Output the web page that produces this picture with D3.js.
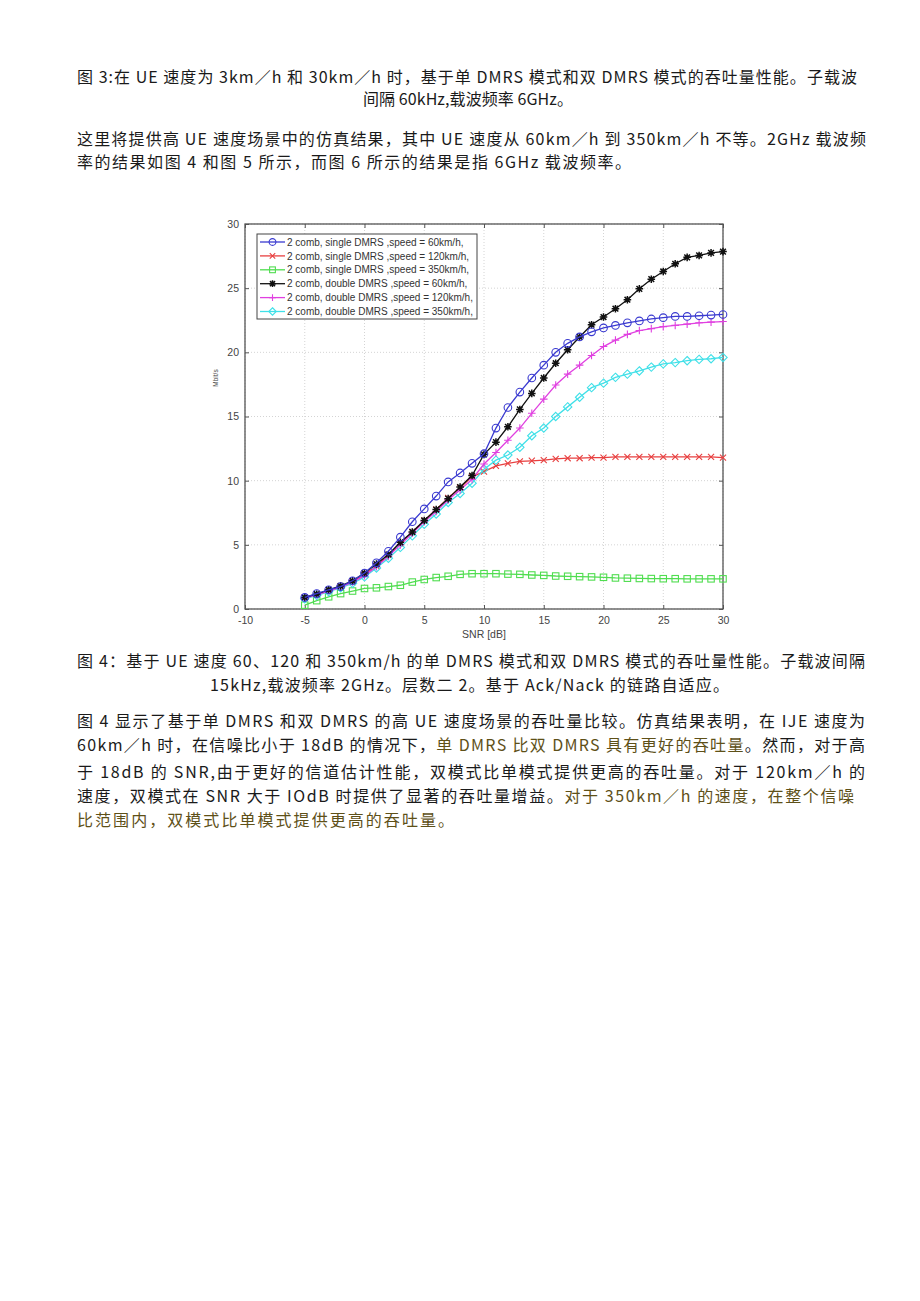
<!DOCTYPE html>
<html><head><meta charset="utf-8">
<script src="https://cdn.jsdelivr.net/npm/d3@7"></script>
<style>body{margin:0;background:#fff}svg{display:block}</style>
</head><body>
<script>
const snr = d3.range(-5, 31, 1);
const single60 = [0.9,1.2,1.5,1.75,2.2,2.8,3.6,4.5,5.6,6.8,7.8,8.8,9.9,10.6,11.35,12.1,14.1,15.7,16.9,18.0,19.0,20.0,20.7,21.2,21.6,21.9,22.1,22.3,22.45,22.6,22.7,22.8,22.8,22.85,22.9,22.95];
const single120 = [0.9,1.15,1.45,1.75,2.1,2.7,3.35,4.2,5.1,6.0,6.9,7.75,8.65,9.45,10.3,10.7,11.15,11.35,11.5,11.55,11.6,11.7,11.75,11.75,11.8,11.8,11.85,11.85,11.85,11.85,11.85,11.85,11.85,11.85,11.85,11.8];
const single350 = [0.3,0.65,0.95,1.2,1.4,1.6,1.65,1.75,1.85,2.1,2.3,2.45,2.55,2.7,2.75,2.75,2.75,2.72,2.7,2.65,2.62,2.57,2.55,2.52,2.5,2.47,2.42,2.4,2.38,2.37,2.36,2.36,2.35,2.35,2.35,2.35];
const double60 = [0.9,1.15,1.5,1.8,2.2,2.8,3.5,4.25,5.2,6.0,6.9,7.75,8.6,9.5,10.4,12.05,13.0,14.2,15.55,16.8,18.0,19.15,20.2,21.2,22.15,22.75,23.4,24.1,24.95,25.7,26.3,26.9,27.4,27.55,27.75,27.85];
const double120 = [0.85,1.1,1.4,1.7,2.1,2.6,3.3,4.1,5.0,5.9,6.8,7.6,8.5,9.3,10.1,11.3,12.2,13.15,14.1,15.25,16.35,17.45,18.3,19.0,19.75,20.45,20.95,21.4,21.7,21.85,22.0,22.1,22.2,22.3,22.35,22.4];
const double350 = [0.8,1.05,1.35,1.65,2.0,2.5,3.2,3.95,4.8,5.7,6.6,7.4,8.3,9.0,9.8,10.9,11.6,12.0,12.6,13.5,14.1,15.0,15.75,16.5,17.25,17.6,18.05,18.3,18.55,18.85,19.1,19.2,19.35,19.45,19.5,19.6];
const seriesNames = ["2 comb, single DMRS ,speed = 60km/h,","2 comb, single DMRS ,speed = 120km/h,","2 comb, single DMRS ,speed = 350km/h,","2 comb, double DMRS ,speed = 60km/h,","2 comb, double DMRS ,speed = 120km/h,","2 comb, double DMRS ,speed = 350km/h,"];
const xTicks = [-10,-5,0,5,10,15,20,25,30];
const yTicks = [0,5,10,15,20,25,30];
const xLabel = "SNR [dB]";
const yLabel = "Mbit/s";

const colors = ["#3a3ad0","#e84040","#50dd50","#111111","#e040e0","#40e0e8"];
const markers = ["circle","x","square","star","plus","diamond"];
const allSeries = [single60,single120,single350,double60,double120,double350];

const svg = d3.select("body").append("svg").attr("width",920).attr("height",1301);
svg.append("rect").attr("width",920).attr("height",1301).attr("fill","#fff");

const FONT = "'Noto Sans CJK SC', sans-serif";
const olive = "#5e5018";
const lines = [
  {segs:[["图 3:在 UE 速度为 3km／h 和 30km／h 时，基于单 DMRS 模式和双 DMRS 模式的吞吐量性能。子载波",null]], x:77, y:83, w:780},
  {segs:[["间隔 60kHz,载波频率 6GHz。",null]], x:363, y:105, w:210},
  {segs:[["这里将提供高 UE 速度场景中的仿真结果，其中 UE 速度从 60km／h 到 350km／h 不等。2GHz 载波频",null]], x:77, y:145, w:789},
  {segs:[["率的结果如图 4 和图 5 所示，而图 6 所示的结果是指 6GHz 载波频率。",null]], x:77, y:168, w:554},
  {segs:[["图 4：基于 UE 速度 60、120 和 350km/h 的单 DMRS 模式和双 DMRS 模式的吞吐量性能。子载波间隔",null]], x:77, y:667, w:788},
  {segs:[["15kHz,载波频率 2GHz。层数二 2。基于 Ack/Nack 的链路自适应。",null]], x:210, y:691, w:519},
  {segs:[["图 4 显示了基于单 DMRS 和双 DMRS 的高 UE 速度场景的吞吐量比较。仿真结果表明，在 IJE 速度为",null]], x:77, y:727, w:788},
  {segs:[["60km／h 时，在信噪比小于 18dB 的情况下，",null],["单 DMRS 比双 DMRS 具有更好的吞吐量",olive],["。然而，对于高",null]], x:77, y:751, w:788},
  {segs:[["于 18dB 的 SNR,由于更好的信道估计性能，双模式比单模式提供更高的吞吐量。对于 120km／h 的",null]], x:77, y:778, w:788},
  {segs:[["速度，双模式在 SNR 大于 IOdB 时提供了显著的吞吐量增益。",null],["对于 350km／h 的速度，在整个信噪",olive]], x:77, y:802, w:777},
  {segs:[["比范围内，双模式比单模式提供更高的吞吐量。",olive]], x:77, y:826, w:377}
];
lines.forEach(L => {
  const t = svg.append("text").attr("x",L.x).attr("y",L.y)
    .attr("font-family",FONT).attr("font-size",16).attr("fill","#1a1a1a")
    .attr("text-anchor",L.anchor||"start");
  if (L.w) t.attr("textLength",L.w).attr("lengthAdjust","spacing");
  L.segs.forEach(s => {
    const ts = t.append("tspan").text(s[0]);
    if (s[1]) ts.attr("fill",s[1]);
  });
});

// chart
const pL=245, pR=723, pT=224, pB=609;
const x = d3.scaleLinear().domain([-10,30]).range([pL,pR]);
const y = d3.scaleLinear().domain([0,30]).range([pB,pT]);
const g = svg.append("g");

g.selectAll(".gx").data(xTicks).enter().append("line")
  .attr("x1",d=>x(d)).attr("x2",d=>x(d)).attr("y1",pT).attr("y2",pB)
  .attr("stroke","#d4d4d4").attr("stroke-width",1).attr("stroke-dasharray","1,2");
g.selectAll(".gy").data(yTicks).enter().append("line")
  .attr("y1",d=>y(d)).attr("y2",d=>y(d)).attr("x1",pL).attr("x2",pR)
  .attr("stroke","#d4d4d4").attr("stroke-width",1).attr("stroke-dasharray","1,2");

const axFont = "Arial, 'Liberation Sans', sans-serif";
const fmt = d => String(d);
const xa = svg.append("g").attr("transform",`translate(0,${pB})`)
  .call(d3.axisBottom(x).tickValues(xTicks).tickSize(-4).tickPadding(8).tickFormat(fmt));
const ya = svg.append("g").attr("transform",`translate(${pL},0)`)
  .call(d3.axisLeft(y).tickValues(yTicks).tickSize(-4).tickPadding(6).tickFormat(fmt));
[xa,ya].forEach(a=>{
  a.select(".domain").remove();
  a.selectAll("line").attr("stroke","#555");
  a.selectAll("text").attr("font-family",axFont).attr("font-size",10.5).attr("fill","#444");
});
svg.append("g").attr("transform",`translate(0,${pT})`)
  .call(d3.axisTop(x).tickValues(xTicks).tickSize(-4).tickFormat(""))
  .call(a=>{a.select(".domain").remove();a.selectAll("line").attr("stroke","#555");});
svg.append("g").attr("transform",`translate(${pR},0)`)
  .call(d3.axisRight(y).tickValues(yTicks).tickSize(-4).tickFormat(""))
  .call(a=>{a.select(".domain").remove();a.selectAll("line").attr("stroke","#555");});
svg.append("rect").attr("x",pL).attr("y",pT).attr("width",pR-pL).attr("height",pB-pT)
  .attr("fill","none").attr("stroke","#555").attr("stroke-width",1.3);

svg.append("text").attr("x",x(10)).attr("y",638).attr("text-anchor","middle")
  .attr("font-family",axFont).attr("font-size",10.5).attr("fill","#444").text(xLabel);
svg.append("text").attr("transform",`translate(218,378) rotate(-90)`).attr("text-anchor","middle")
  .attr("font-family",axFont).attr("font-size",6.5).attr("fill","#444").text(yLabel);

function drawMarker(sel, type, color, cx, cy, r) {
  const gg = sel.append("g").attr("transform",`translate(${cx},${cy})`)
    .attr("fill","none").attr("stroke",color).attr("stroke-width",1.1);
  if (type==="circle") gg.append("circle").attr("r",r);
  else if (type==="square") gg.append("rect").attr("x",-r*0.85).attr("y",-r*0.85).attr("width",r*1.7).attr("height",r*1.7);
  else if (type==="diamond") gg.append("path").attr("d",`M0,${-r*1.1}L${r*1.1},0L0,${r*1.1}L${-r*1.1},0Z`);
  else if (type==="x") gg.append("path").attr("d",`M${-r*0.8},${-r*0.8}L${r*0.8},${r*0.8}M${-r*0.8},${r*0.8}L${r*0.8},${-r*0.8}`);
  else if (type==="plus") gg.append("path").attr("d",`M${-r},0L${r},0M0,${-r}L0,${r}`);
  else if (type==="star") gg.append("path").attr("d",`M${-r},0L${r},0M0,${-r}L0,${r}M${-r*0.75},${-r*0.75}L${r*0.75},${r*0.75}M${-r*0.75},${r*0.75}L${r*0.75},${-r*0.75}`).attr("stroke-width",1.5);
}

const line = d3.line().x((d,i)=>x(snr[i])).y(d=>y(d));
const order = [2,1,5,4,3,0];
order.forEach(k=>{
  const data = allSeries[k];
  svg.append("path").datum(data).attr("d",line).attr("fill","none")
    .attr("stroke",colors[k]).attr("stroke-width",1.3);
  data.forEach((v,i)=>drawMarker(svg, markers[k], colors[k], x(snr[i]), y(v), 3.8));
});

const lg = svg.append("g");
lg.append("rect").attr("x",257).attr("y",234).attr("width",220).attr("height",85)
  .attr("fill","#fff").attr("stroke","#444").attr("stroke-width",1);
seriesNames.forEach((n,i)=>{
  const yy = 242 + i*13.9;
  lg.append("line").attr("x1",260).attr("x2",285).attr("y1",yy).attr("y2",yy)
    .attr("stroke",colors[i]).attr("stroke-width",1.3);
  drawMarker(lg, markers[i], colors[i], 272.5, yy, 3.4);
  lg.append("text").attr("x",287).attr("y",yy+3.6).attr("font-family",axFont)
    .attr("font-size",10).attr("fill","#333").text(n);
});
</script>
</body></html>
